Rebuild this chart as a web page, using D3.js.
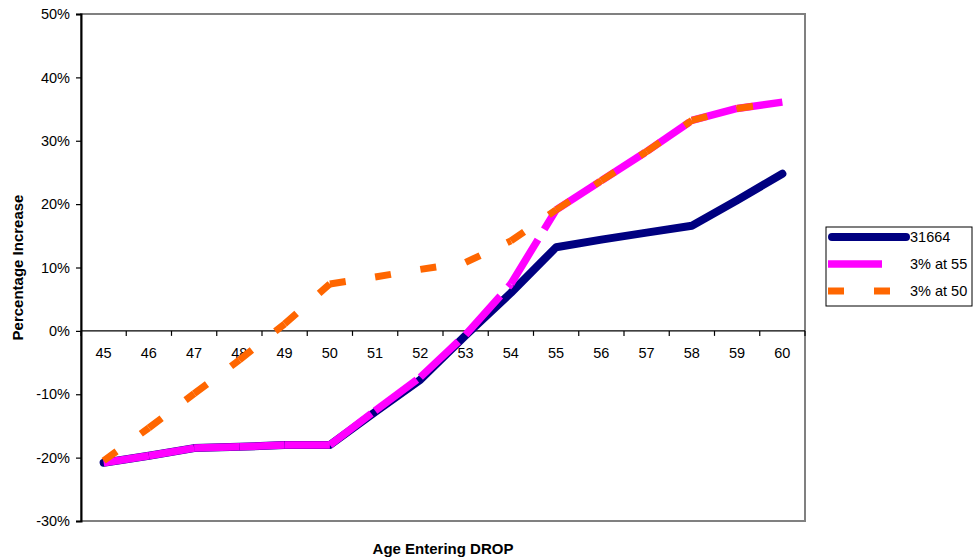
<!DOCTYPE html>
<html>
<head>
<meta charset="utf-8">
<script src="https://cdn.jsdelivr.net/npm/d3@7"></script>
<style>
  body { margin: 0; background: #fff; }
  text { font-family: "Liberation Sans", Arial, sans-serif; fill: #000; }
</style>
</head>
<body>
<svg id="chart" width="974" height="557"></svg>
<script>
const ages = [45, 46, 47, 48, 49, 50, 51, 52, 53, 54, 55, 56, 57, 58, 59, 60];
const s31664 = [-20.8, -19.7, -18.5, -18.3, -18.0, -18.0, -12.8, -7.7, -0.7, 6.0, 13.2, 14.4, 15.5, 16.6, 20.6, 24.8];
const s3at55 = [-20.8, -19.7, -18.5, -18.3, -18.0, -18.0, -12.6, -7.3, -0.6, 7.4, 19.1, 23.7, 28.3, 33.2, 35.1, 36.1];
const s3at50 = [-20.5, -15.3, -9.9, -4.6, 1.1, 7.4, 8.5, 9.7, 10.8, 14.2, 19.1, 23.7, 28.3, 33.2, 35.1, 36.1];
const yTicks = [-30, -20, -10, 0, 10, 20, 30, 40, 50];
const seriesNames = ["31664", "3% at 55", "3% at 50"];

const svg = d3.select("#chart");
const L = 81, R = 805, T = 14, B = 521;
const FS = "14.5px";

const x = d3.scaleBand().domain(ages).range([L, R]).padding(0);
const y = d3.scaleLinear().domain([-30, 50]).range([B, T]);
const cx = d => x(d) + x.bandwidth() / 2;

// plot area border (gray)
svg.append("rect").attr("x", L).attr("y", T).attr("width", R - L).attr("height", B - T)
  .attr("fill", "#fff").attr("stroke", "#808080").attr("stroke-width", 2);

// y axis
const yAxis = d3.axisLeft(y).tickValues(yTicks).tickFormat(d => d + "%").tickSize(5).tickPadding(6);
const gy = svg.append("g").attr("transform", `translate(${L},0)`).call(yAxis);
gy.select(".domain").attr("stroke", "#000").attr("stroke-width", 2);
gy.selectAll(".tick line").attr("stroke", "#000").attr("stroke-width", 1.2);
gy.selectAll(".tick text").style("font-size", FS).attr("font-family", null);

// x axis at 0
const gx = svg.append("g").attr("transform", `translate(0,${y(0)})`);
gx.append("line").attr("x1", L).attr("x2", R).attr("y1", 0).attr("y2", 0)
  .attr("stroke", "#000").attr("stroke-width", 1.2);
const bounds = ages.map(a => x(a)).concat([R]);
gx.selectAll("line.tk").data(bounds).join("line").attr("class", "tk")
  .attr("x1", d => d).attr("x2", d => d).attr("y1", 0).attr("y2", 5)
  .attr("stroke", "#000").attr("stroke-width", 1.2);
gx.selectAll("text.lb").data(ages).join("text").attr("class", "lb")
  .attr("x", d => cx(d)).attr("y", 22).attr("text-anchor", "middle")
  .attr("dominant-baseline", "central").style("font-size", FS).text(d => d);

// series
const line = d3.line().x(d => cx(d.a)).y(d => y(d.v));
const toPts = arr => ages.map((a, i) => ({a: a, v: arr[i]}));
const segs = arr => { const p = toPts(arr); return d3.range(p.length - 1).map(i => [p[i], p[i + 1]]); };

svg.append("path").datum(toPts(s31664)).attr("d", line)
  .attr("fill", "none").attr("stroke", "#000080").attr("stroke-width", 8)
  .attr("stroke-linejoin", "round").attr("stroke-linecap", "round");

svg.append("g").selectAll("path").data(segs(s3at55)).join("path").attr("d", line)
  .attr("fill", "none").attr("stroke", "#FF00FF").attr("stroke-width", 7.5)
  .attr("stroke-dasharray", "52,12").attr("stroke-linecap", "butt");

svg.append("g").selectAll("path").data(segs(s3at50)).join("path").attr("d", line)
  .attr("fill", "none").attr("stroke", "#FF6600").attr("stroke-width", 7)
  .attr("stroke-dasharray", "16,30").attr("stroke-linecap", "butt");

// axis titles
svg.append("text").attr("x", (L + R) / 2).attr("y", 548).attr("text-anchor", "middle")
  .attr("dominant-baseline", "central").style("font-size", "15px").style("font-weight", "bold")
  .text("Age Entering DROP");
svg.append("text").attr("transform", `translate(17.5,${(T + B) / 2}) rotate(-90)`)
  .attr("text-anchor", "middle").attr("dominant-baseline", "central")
  .style("font-size", "15px").style("font-weight", "bold").text("Percentage Increase");

// legend
const lg = svg.append("g");
lg.append("rect").attr("x", 826).attr("y", 227).attr("width", 146).attr("height", 79)
  .attr("fill", "#fff").attr("stroke", "#000").attr("stroke-width", 1);
const ly = [237, 264, 291];
lg.append("line").attr("x1", 832).attr("x2", 906).attr("y1", ly[0]).attr("y2", ly[0])
  .attr("stroke", "#000080").attr("stroke-width", 8).attr("stroke-linecap", "round");
lg.append("line").attr("x1", 828).attr("x2", 882).attr("y1", ly[1]).attr("y2", ly[1])
  .attr("stroke", "#FF00FF").attr("stroke-width", 7.5);
lg.append("line").attr("x1", 828).attr("x2", 890).attr("y1", ly[2]).attr("y2", ly[2])
  .attr("stroke", "#FF6600").attr("stroke-width", 7).attr("stroke-dasharray", "16,30");
lg.selectAll("text").data(seriesNames).join("text")
  .attr("x", 910).attr("y", (d, i) => ly[i]).attr("dominant-baseline", "central")
  .style("font-size", FS).text(d => d);
</script>
</body>
</html>
